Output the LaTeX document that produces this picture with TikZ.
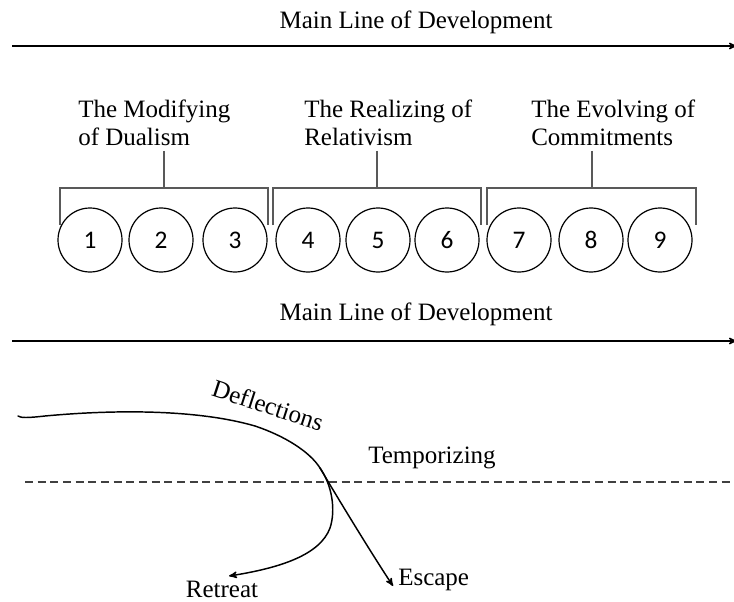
\documentclass[tikz,border=0pt]{standalone}
\usepackage{fontspec}
\setmainfont{Liberation Serif}
\newfontfamily\numfont{Carlito}
\usetikzlibrary{arrows}

\begin{document}
\begin{tikzpicture}[x=0.75pt,y=-0.75pt,>=stealth',
	main line/.style={->,line width=1.1pt},
	stage node/.style={circle,draw,line width=0.9pt,minimum size=48pt,inner sep=0pt,
	                   font=\numfont\fontsize{19}{19}\selectfont},
	group label/.style={anchor=north west,align=left,inner sep=0pt,
	                    font=\fontsize{18.75}{21}\selectfont},
	label text/.style={inner sep=0pt,font=\fontsize{18.75}{21}\selectfont},
	bracket/.style={draw=black!65,line width=1pt},
	path line/.style={line width=1.1pt,line cap=round}]
	\useasboundingbox (0,0) rectangle (734,602);

	% Top line
	  \node (T1) [label text,anchor=base] at (416,29) {Main Line of Development};
	  \coordinate (A1s) at (12,46);
	  \coordinate (A1e) at (737,46);
	  \draw[main line] (A1s) -- (A1e);

	% Group labels
	  \node (G1) [group label] at (78,100) {The Modifying\\of Dualism};
	  \node (G2) [group label] at (304,100) {The Realizing of\\Relativism};
	  \node (G3) [group label] at (531,100) {The Evolving of\\Commitments};

	% Stages
	  \foreach \n/\x in {1/90,2/161,3/235,4/308,5/378,6/447,7/519,8/591,9/660}
	    \node (S\n) at (\x,240) [stage node] {\n};

	% Brackets
	  \foreach \g/\l/\m/\r in {1/60/164/268,2/273/377/481,3/487/592/696} {
	    \coordinate (L\g) at (\l,225);
	    \coordinate (M\g) at (\m,188);
	    \coordinate (R\g) at (\r,225);
	    \coordinate (U\g) at (\m,151);
	    \draw[bracket] (L\g) |- (M\g) -| (R\g);
	    \draw[bracket] (U\g) -- (M\g);
	  }

	% Lower line
	  \node (T2) [label text,anchor=base] at (416,320) {Main Line of Development};
	  \coordinate (A2s) at (12,341);
	  \coordinate (A2e) at (737,341);
	  \draw[main line] (A2s) -- (A2e);

	% Temporizing level
	  \coordinate (D1) at (25,482);
	  \coordinate (D2) at (737,482);
	  \draw[black!75,line width=1pt,dash pattern=on 6pt off 3.5pt] (D1) -- (D2);

	% Labels on the curves
	  \node (Defl) [label text,rotate=-18] at (268,405) {Deflections};
	  \node (Temp) [label text,anchor=base] at (432,463) {Temporizing};
	  \node (Ret) [label text,anchor=base] at (222,597) {Retreat};
	  \node (Esc) [label text,anchor=base west] at (398,585) {Escape};

	% Curves
	  \coordinate (Start) at (18,416);
	  \coordinate (Split) at (320,468);
	  \coordinate (RetEnd) at (229,576);
	  \coordinate (EscEnd) at (393,586);
	  \draw[path line] (Start) .. controls (21,418) and (27,418) .. (45,416)
	    .. controls (120,409) and (200,410) .. (255,426)
	    .. controls (285,436) and (310,452) .. (Split);
	  \draw[path line,->] (Split) .. controls (332,485) and (336,510) .. (330,528)
	    .. controls (320,555) and (280,568) .. (RetEnd);
	  \draw[path line,->] (Split) .. controls (336,495) and (368,548) .. (EscEnd);
\end{tikzpicture}
\end{document}
